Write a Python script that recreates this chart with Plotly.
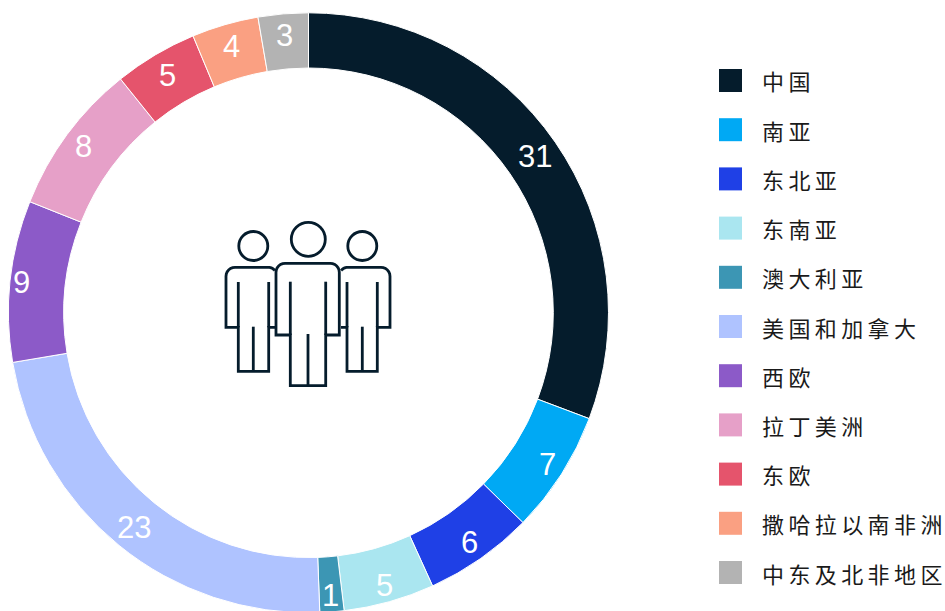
import math
import plotly.graph_objects as go

regions = ["中国", "南亚", "东北亚", "东南亚", "澳大利亚", "美国和加拿大", "西欧", "拉丁美洲", "东欧", "撒哈拉以南非洲", "中东及北非地区"]
shares = [30.8, 6.6, 5.9, 4.9, 1.3, 23.0, 8.7, 8.2, 4.5, 3.6, 2.7]
share_labels = ["31", "7", "6", "5", "1", "23", "9", "8", "5", "4", "3"]
colors = ["#051C2C", "#00A9F4", "#1F40E6", "#AAE6F0", "#3C96B4", "#AFC3FF", "#8C5AC8", "#E6A0C8", "#E5546C", "#FAA082", "#B3B3B3"]

W, H = 945, 615  # the window crops the ring's last pixels, as in the reference
CX, CY, R, HOLE = 308.5, 312.8, 300.0, 0.816
INK = "#051C2C"
# distance of each value label from the ring centre, px
label_radius = [275, 283, 281, 283, 284, 277, 289, 280, 276, 277, 278]


def px(x):
    return x / W


def py(y):
    return 1 - y / H


fig = go.Figure(go.Pie(
    labels=regions, values=shares, sort=False, direction="clockwise", rotation=0,
    hole=HOLE, textinfo="none", showlegend=False,
    marker=dict(colors=colors, line=dict(color="white", width=1)),
    domain=dict(x=[px(CX - R), px(CX + R)], y=[py(CY + R), py(CY - R)]),
))

annotations, shapes = [], []

# value labels, centred on each ring segment
total = sum(shares)
cum = 0
for v, t, r_lab in zip(shares, share_labels, label_radius):
    a = 2 * math.pi * (cum + v / 2) / total
    cum += v
    annotations.append(dict(
        x=px(CX + r_lab * math.sin(a)), y=py(CY - r_lab * math.cos(a)),
        xref="paper", yref="paper", text=t, showarrow=False,
        xanchor="center", yanchor="middle",
        font=dict(family="Liberation Sans, Arial", size=31, color="white"),
    ))

# legend
for i, (name, col) in enumerate(zip(regions, colors)):
    yc = 80.5 + i * 49.2
    shapes.append(dict(type="rect", xref="paper", yref="paper", layer="above",
                       x0=px(719), x1=px(742), y0=py(yc - 11.5), y1=py(yc + 11.5),
                       fillcolor=col, line=dict(width=0)))
    annotations.append(dict(
        x=px(760), y=py(yc), xref="paper", yref="paper", showarrow=False,
        xanchor="left", yanchor="middle", text="\u2009".join(name),
        font=dict(family="Noto Sans CJK SC", size=22, color="#1A1A1A"),
    ))


# people icon
LW = 2.8


def stroke(pts, close=False):
    d = "M" + " L".join(f"{px(x):.5f},{py(y):.5f}" for x, y in pts)
    shapes.append(dict(type="path", xref="paper", yref="paper", path=d + (" Z" if close else ""),
                       line=dict(color=INK, width=LW)))


def circle(x, y, r):
    shapes.append(dict(type="circle", xref="paper", yref="paper",
                       x0=px(x - r), x1=px(x + r), y0=py(y + r), y1=py(y - r),
                       line=dict(color=INK, width=LW)))


def arc(cx, cy, a0, a1, r):
    n = 6
    return [(cx + r * math.cos(math.radians(a0 + (a1 - a0) * k / n)),
             cy + r * math.sin(math.radians(a0 + (a1 - a0) * k / n))) for k in range(n + 1)]


# centre figure
circle(308.3, 239.3, 17)
stroke(arc(285, 272.3, 180, 270, 9) + arc(330.3, 272.3, 270, 360, 9) +
       [(339.3, 335), (325.7, 335), (325.7, 385.7), (290.3, 385.7), (290.3, 335), (276, 335)], close=True)
stroke([(290.3, 281.7), (290.3, 335)])
stroke([(325.7, 281.7), (325.7, 335)])
stroke([(308, 334), (308, 385.7)])

# left figure
circle(253.3, 246, 14.5)
stroke([(275, 327.3), (268.7, 327.3), (268.7, 371.3), (238.3, 371.3), (238.3, 327.3), (226, 327.3)] +
       arc(235, 276.3, 180, 270, 9) + arc(268, 276.3, 270, 320, 9))
stroke([(238.3, 282), (238.3, 327.3)])
stroke([(268.7, 282), (268.7, 327.3)])
stroke([(253.3, 326.7), (253.3, 371.3)])

# right figure
circle(362.3, 246, 14.5)
stroke([(341, 327.3), (347, 327.3), (347, 371.3), (377.3, 371.3), (377.3, 327.3), (390, 327.3)] +
       arc(381, 276.3, 0, -90, 9) + arc(348, 276.3, 270, 220, 9))
stroke([(347, 282), (347, 327.3)])
stroke([(377.3, 282), (377.3, 327.3)])
stroke([(362.3, 326.7), (362.3, 371.3)])

fig.update_layout(width=W, height=H, autosize=False, margin=dict(l=0, r=0, t=0, b=0),
                  paper_bgcolor="white", annotations=annotations, shapes=shapes)
fig.write_html("out.html", config=dict(displayModeBar=False),
               post_script="document.body.style.margin='0';document.documentElement.style.overflow='hidden';document.body.style.overflow='hidden';")
